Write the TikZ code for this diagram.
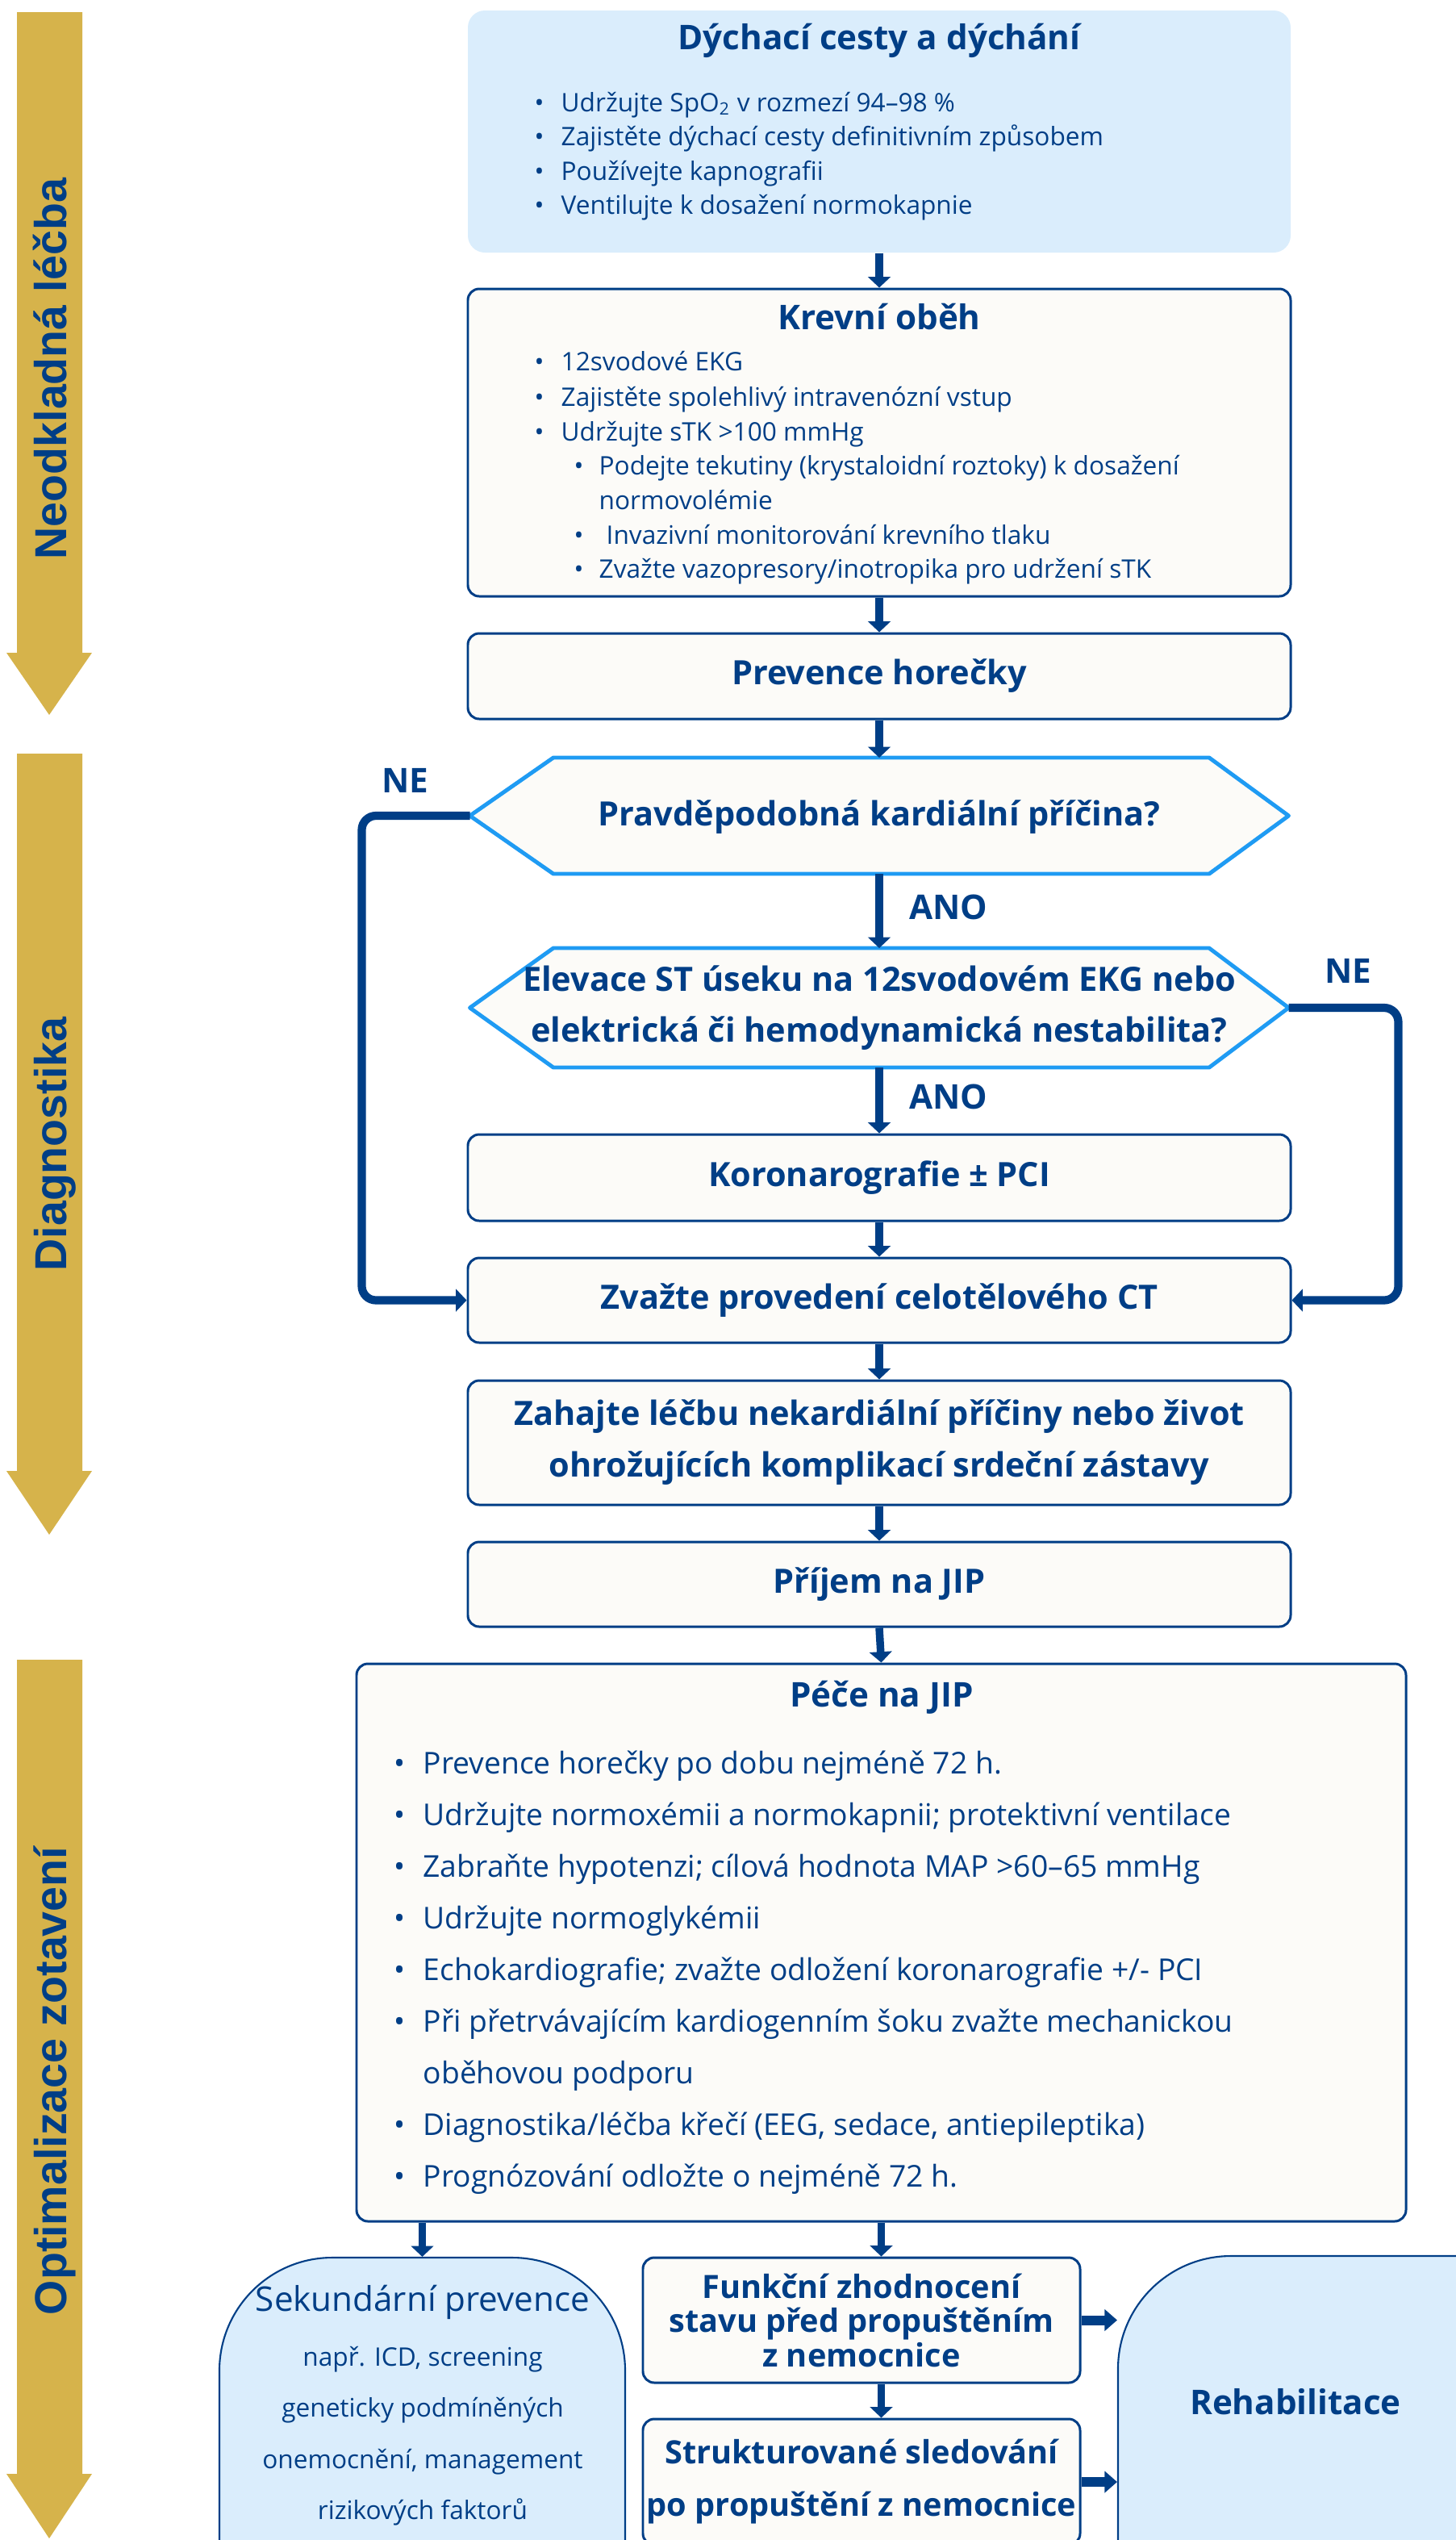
\documentclass[tikz,border=0pt]{standalone}
\usepackage{fontspec}
\setmainfont{Open Sans}
\newfontfamily\stagefont{Liberation Sans}
\usetikzlibrary{arrows.meta}
\definecolor{navy}{HTML}{003E86}
\definecolor{ochre}{HTML}{D6B34B}
\definecolor{skyfill}{HTML}{DAEDFC}
\definecolor{paper}{HTML}{FCFBF8}
\definecolor{hexblue}{HTML}{1F9BF3}
\newcommand{\fs}[2]{\fontsize{#1}{#2}\selectfont}
\newcommand{\bl}[1][0.33cm]{\makebox[#1][l]{•}}
\begin{document}
\begin{tikzpicture}[line join=round, every node/.style={text=navy},
	paperbox/.style={draw=navy, line width=0.85pt, fill=paper, rounded corners=4pt, minimum width=10.2cm, inner sep=0pt, align=center, font=\bfseries\fs{11.8}{18.2}},
	skybox/.style={draw=navy, line width=0.6pt, fill=skyfill, inner sep=0pt},
	title/.style={font=\bfseries\fs{12}{14}},
	item/.style={anchor=base west, inner sep=0pt, font=\fs{9}{11}},
	careitem/.style={anchor=base west, inner sep=0pt, font=\fs{10.6}{12}},
	hexline/.style={draw=hexblue, line width=1.4pt, fill=paper},
	asks/.style={align=center, font=\bfseries\fs{11.8}{18}},
	answer/.style={font=\bfseries\fs{12}{14}},
	link/.style={draw=navy, line width=2.7pt, -{Triangle[length=3.8pt,width=7.8pt]}},
	noline/.style={link, line width=2.9pt, rounded corners=5pt},
	fat/.style={draw=navy, line width=3.4pt, -{Triangle[length=4.4pt,width=7.4pt]}},
	stage/.style={rotate=90, anchor=base, font=\stagefont\bfseries\fs{15.8}{18}}]
	\useasboundingbox (0,0) rectangle (18.05,-31.48);

	% phase arrows on the left
	\foreach \a/\b/\c in {0.15/8.09/8.86, 9.34/18.23/19.02, 20.57/30.66/31.46}{
		\fill[ochre] (0.21,-\a) -- (1.02,-\a) -- (1.02,-\b) -- (1.14,-\b) -- (0.61,-\c) -- (0.08,-\b) -- (0.21,-\b) -- cycle;}
	\node[stage] (stage1) at (0.82,-4.57) {Neodkladná léčba};
	\node[stage] (stage2) at (0.82,-14.18) {Diagnostika};
	\node[stage] (stage3) at (0.82,-25.79) {Optimalizace zotavení};

	% airway and breathing
	\node[fill=skyfill, rounded corners=6pt, minimum width=10.2cm, minimum height=3cm, inner sep=0pt] (airway) at (10.9,-1.63) {};
	\node[title] (airwayT) at (10.9,-0.50) {Dýchací cesty a dýchání};
	\foreach \t [count=\i] in {Udržujte SpO\textsubscript{2} v rozmezí 94–98 \%, Zajistěte dýchací cesty definitivním způsobem, Používejte kapnografii, Ventilujte k dosažení normokapnie}
		\node[item] (air\i) at (6.62,{-1.38-0.425*(\i-1)}) {\bl\t};

	% circulation
	\node[paperbox, minimum height=3.81cm] (blood) at (10.9,-5.485) {};
	\node[title] (bloodT) at (10.9,-3.93) {Krevní oběh};
	\foreach \x/\y/\t [count=\i] in {6.62/4.59/{\bl 12svodové EKG}, 6.62/5.03/{\bl Zajistěte spolehlivý intravenózní vstup}, 6.62/5.46/{\bl Udržujte sTK >100 mmHg}, 7.11/5.88/{\bl[0.31cm]Podejte tekutiny (krystaloidní roztoky) k dosažení}, 7.42/6.31/{normovolémie}, 7.11/6.74/{\bl[0.40cm]Invazivní monitorování krevního tlaku}, 7.11/7.16/{\bl[0.31cm]Zvažte vazopresory/inotropika pro udržení sTK}}
		\node[item] (blood\i) at (\x,-\y) {\t};

	\node[paperbox, minimum height=1.06cm] (fever) at (10.9,-8.38) {Prevence horečky};

	% questions
	\draw[hexline] (5.825,-10.11) coordinate (q1W) -- (6.86,-9.39) -- (14.99,-9.39) -- (15.975,-10.11) coordinate (q1E) -- (14.99,-10.83) -- (6.86,-10.83) -- cycle;
	\coordinate (q1N) at (10.9,-9.39);
	\coordinate (q1S) at (10.9,-10.83);
	\node[asks] (q1) at (10.9,-10.13) {Pravděpodobná kardiální příčina?};
	\draw[hexline] (5.825,-12.49) coordinate (q2W) -- (6.86,-11.75) -- (14.99,-11.75) -- (15.975,-12.49) coordinate (q2E) -- (14.99,-13.23) -- (6.86,-13.23) -- cycle;
	\coordinate (q2N) at (10.9,-11.75);
	\coordinate (q2S) at (10.9,-13.23);
	\node[asks] (q2) at (10.9,-12.49) {Elevace ST úseku na 12svodovém EKG nebo\\elektrická či hemodynamická nestabilita?};

	\node[paperbox, minimum height=1.07cm] (coro) at (10.9,-14.595) {Koronarografie ± PCI};
	\node[paperbox, minimum height=1.05cm] (ct) at (10.9,-16.115) {Zvažte provedení celotělového CT};
	\node[paperbox, minimum height=1.54cm] (start) at (10.9,-17.88) {Zahajte léčbu nekardiální příčiny nebo život\\ohrožujících komplikací srdeční zástavy};
	\node[paperbox, minimum height=1.05cm] (icu) at (10.9,-19.635) {Příjem na JIP};

	\node[answer, anchor=west] (ano1) at (11.15,-11.24) {ANO};
	\node[answer, anchor=west] (ano2) at (11.15,-13.59) {ANO};
	\node[answer] (ne1) at (5.02,-9.67) {NE};
	\node[answer] (ne2) at (16.71,-12.03) {NE};

	% ICU care
	\node[paperbox, minimum width=13.01cm, minimum height=6.91cm] (care) at (10.925,-24.075) {};
	\node[title] (careT) at (10.93,-21.04) {Péče na JIP};
	\foreach \t [count=\i] in {{\bl[0.36cm]Prevence horečky po dobu nejméně 72 h.}, {\bl[0.36cm]Udržujte normoxémii a normokapnii; protektivní ventilace}, {\bl[0.36cm]Zabraňte hypotenzi; cílová hodnota MAP >60–65 mmHg}, {\bl[0.36cm]Udržujte normoglykémii}, {\bl[0.36cm]Echokardiografie; zvažte odložení koronarografie +/- PCI}, {\bl[0.36cm]Při přetrvávajícím kardiogenním šoku zvažte mechanickou}, {\hspace*{0.36cm}oběhovou podporu}, {\bl[0.36cm]Diagnostika/léčba křečí (EEG, sedace, antiepileptika)}, {\bl[0.36cm]Prognózování odložte o nejméně 72 h.}}
		\node[careitem] (care\i) at (4.88,{-21.98-0.64*(\i-1)}) {\t};

	% after ICU
	\node[skybox, rounded corners=1.4cm, minimum width=5.03cm, minimum height=6cm] (sec) at (5.235,-30.98) {};
	\node[font=\fs{12}{14}] (secT) at (5.24,-28.53) {Sekundární prevence};
	\foreach \t [count=\i] in {{např. ICD, screening}, geneticky podmíněných, {onemocnění, management}, rizikových faktorů}
		\node[anchor=base, inner sep=0pt, font=\fs{9}{11}] (sec\i) at (5.24,{-29.32-0.635*(\i-1)}) {\t};
	\node[paperbox, minimum width=5.42cm, minimum height=1.55cm, font=\bfseries\fs{11.3}{12.1}] (func) at (10.68,-28.755) {Funkční zhodnocení\\stavu před propuštěním\\z nemocnice};
	\node[paperbox, minimum width=5.42cm, minimum height=1.56cm, font=\bfseries\fs{11.3}{18.5}] (strk) at (10.68,-30.76) {Strukturované sledování\\po propuštění z nemocnice};
	\node[skybox, rounded corners=1.4cm, minimum width=7cm, minimum height=6cm] (rehab) at (17.36,-30.96) {};
	\node[title] (rehabT) at (16.06,-29.77) {Rehabilitace};

	% connectors
	\draw[link] (airway.south) -- (blood.north);
	\draw[link] (blood.south) -- (fever.north);
	\draw[link] (fever.south) -- (q1N);
	\draw[link] (q1S) -- (q2N);
	\draw[link] (q2S) -- (coro.north);
	\draw[link] (coro.south) -- (ct.north);
	\draw[link] (ct.south) -- (start.north);
	\draw[link] (start.south) -- (icu.north);
	\draw[link] (icu.south) -- (care.north);
	\draw[noline] (q1W) -- ++(-1.34,0) |- (ct.west);
	\draw[noline] (q2E) -- ++(1.36,0) |- (ct.east);
	\draw[link] (care.south -| sec.north) -- (sec.north);
	\draw[link] (care.south) -- (care.south |- func.north);
	\draw[link] (func.south -| care.south) -- (care.south |- strk.north);
	\draw[fat] (func.east) -- (func.east -| rehab.west);
	\draw[fat] (strk.east) -- (strk.east -| rehab.west);
\end{tikzpicture}
\end{document}
